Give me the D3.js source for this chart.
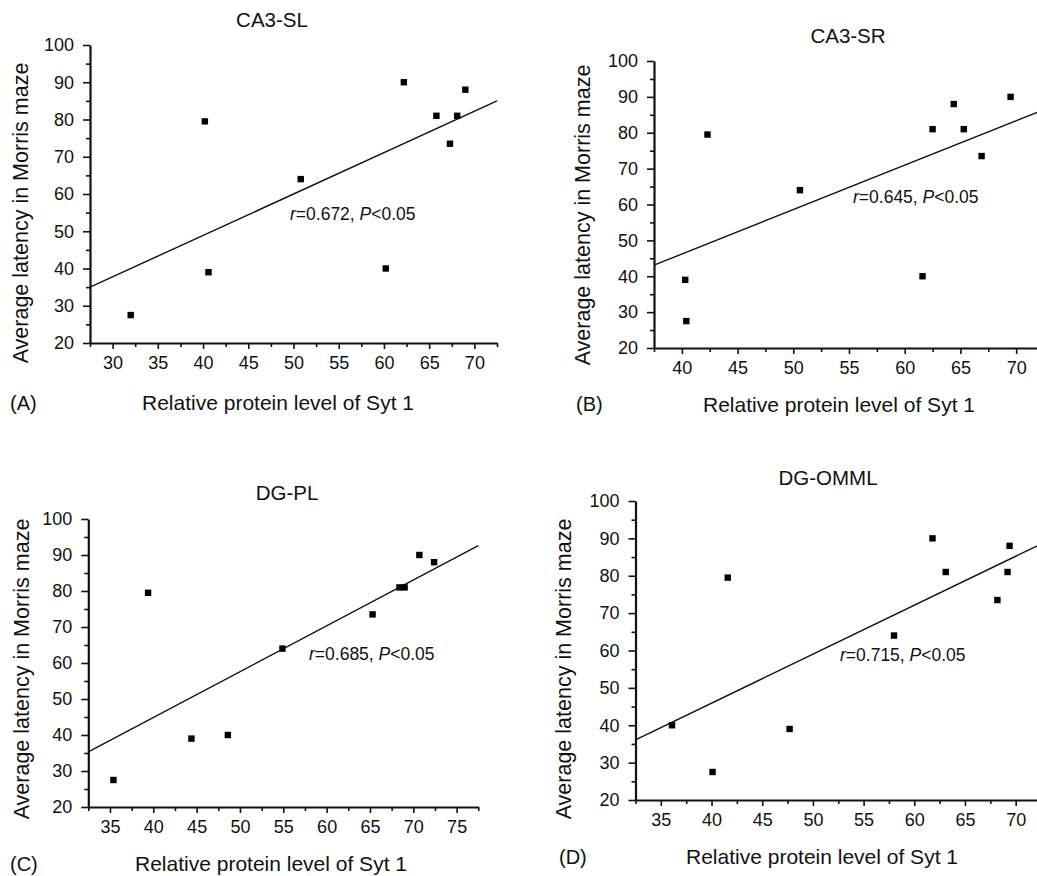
<!DOCTYPE html>
<html lang="en">
<head>
    <meta charset="UTF-8">
    <title>Syt 1 vs latency</title>
    <style>
        body { margin: 0; background: #fff; }
        text { font-family: "Liberation Sans", Arial, Helvetica, sans-serif; fill: #111; }
    </style>
</head>
<body>
<div id="chart"></div>
<script src="https://cdn.jsdelivr.net/npm/d3@7/dist/d3.min.js"></script>
<script>
    // values
    const panelNames = ["CA3-SL", "CA3-SR", "DG-PL", "DG-OMML"];
    const panelLetters = ["(A)", "(B)", "(C)", "(D)"];
    const rValues = ["0.672", "0.645", "0.685", "0.715"];

    const proteinA = [32.0, 40.2, 40.6, 50.8, 60.2, 62.2, 65.8, 67.3, 68.1, 69.0];
    const latencyA = [27.5, 79.5, 39, 64, 40, 90, 81, 73.5, 81, 88];
    const proteinB = [42.3, 40.3, 40.4, 50.6, 61.6, 62.5, 64.4, 65.3, 66.9, 69.5];
    const latencyB = [79.5, 39, 27.5, 64, 40, 81, 88, 81, 73.5, 90];
    const proteinC = [35.4, 39.4, 44.4, 48.6, 54.9, 65.3, 68.4, 69.0, 70.7, 72.4];
    const latencyC = [27.5, 79.5, 39, 40, 64, 73.5, 81, 81, 90, 88];
    const proteinD = [36.1, 40.1, 41.6, 47.7, 58.0, 61.8, 63.1, 68.2, 69.2, 69.4];
    const latencyD = [40, 27.5, 79.5, 39, 64, 90, 81, 73.5, 81, 88];

    // regression lines: latency = intercept + slope * protein
    const fitSlopes = [1.111, 1.238, 1.273, 1.311];
    const fitIntercepts = [4.44, -3.33, -6.07, -6.55];

    const xDomains = [[27.5, 72.5], [37.5, 72.5], [32.5, 77.5], [32.5, 72.5]];
    const yTicks = [20, 30, 40, 50, 60, 70, 80, 90, 100];

    const xTitle = "Relative protein level of Syt 1";
    const yTitle = "Average latency in Morris maze";

    const proteins = [proteinA, proteinB, proteinC, proteinD];
    const latencies = [latencyA, latencyB, latencyC, latencyD];

    // pixel layout of each panel
    const layout = [
        {x0: 90, x1: 497, y0: 343, y1: 45, title: [272, 27], letter: [10, 410], xt: [278, 410], yt: [28, 213], note: [290, 220]},
        {x0: 654, x1: 1044, y0: 348, y1: 61, title: [848, 43], letter: [576, 411], xt: [839, 412], yt: [590, 215], note: [853, 203]},
        {x0: 88.3, x1: 478.3, y0: 807, y1: 519, title: [287, 500], letter: [10, 871], xt: [271, 871], yt: [29, 669], note: [309, 660]},
        {x0: 635.5, x1: 1041, y0: 800, y1: 501, title: [828, 485], letter: [559, 864], xt: [822, 864], yt: [571, 669], note: [840, 661]}
    ];

    const svg = d3.select("#chart")
        .append("svg")
        .attr("width", 1037)
        .attr("height", 876)
        .style("background-color", "#fff");

    panelNames.forEach((name, i) => {
        const L = layout[i];
        const dom = xDomains[i];
        const xScale = d3.scaleLinear().domain(dom).range([L.x0, L.x1]);
        const yScale = d3.scaleLinear().domain([20, 100]).range([L.y0, L.y1]);
        const g = svg.append("g").classed("panel", true);

        const xMajor = d3.range(Math.ceil(dom[0] / 5) * 5, dom[1] + 0.01, 5);
        const xMinor = d3.range(dom[0], dom[1] + 0.01, 2.5).filter(v => v % 5 !== 0);
        const yMinor = d3.range(25, 100, 10);

        // minor ticks
        g.append("g")
            .attr("transform", `translate(0,${L.y0})`)
            .call(d3.axisBottom(xScale).tickValues(xMinor).tickSize(4).tickFormat(""))
            .call(a => a.select(".domain").remove());
        g.append("g")
            .attr("transform", `translate(${L.x0},0)`)
            .call(d3.axisLeft(yScale).tickValues(yMinor).tickSize(4).tickFormat(""))
            .call(a => a.select(".domain").remove());

        // major axes
        g.append("g")
            .classed("xaxis", true)
            .attr("transform", `translate(0,${L.y0})`)
            .call(d3.axisBottom(xScale).tickValues(xMajor).tickSize(6).tickPadding(7).tickSizeOuter(0));
        g.append("g")
            .classed("yaxis", true)
            .attr("transform", `translate(${L.x0},0)`)
            .call(d3.axisLeft(yScale).tickValues(yTicks).tickSize(7).tickPadding(9).tickSizeOuter(0));

        g.selectAll(".tick line").style("stroke", "#111").style("stroke-width", 1.6);
        g.selectAll(".domain").style("stroke", "#111").style("stroke-width", 2.2);
        g.selectAll(".tick text")
            .style("font-family", "'Liberation Sans', Arial, sans-serif")
            .style("font-size", "18px")
            .style("fill", "#111");

        // regression line
        const fit = dom.map(v => ({x: v, y: fitIntercepts[i] + fitSlopes[i] * v}));
        g.append("path")
            .datum(fit)
            .attr("d", d3.line().x(d => xScale(d.x)).y(d => yScale(d.y)))
            .style("fill", "none")
            .style("stroke", "#111")
            .style("stroke-width", 1.4);

        // points
        g.append("g")
            .selectAll("rect")
            .data(proteins[i].map((p, k) => ({x: p, y: latencies[i][k]})))
            .join("rect")
            .attr("x", d => xScale(d.x) - 3.2)
            .attr("y", d => yScale(d.y) - 3.2)
            .attr("width", 6.4)
            .attr("height", 6.4)
            .style("fill", "#000");

        // texts
        g.append("text")
            .attr("x", L.title[0]).attr("y", L.title[1])
            .attr("text-anchor", "middle")
            .style("font-size", "20.5px")
            .text(name);

        g.append("text")
            .attr("x", L.letter[0]).attr("y", L.letter[1])
            .style("font-size", "20px")
            .text(panelLetters[i]);

        g.append("text")
            .attr("x", L.xt[0]).attr("y", L.xt[1])
            .attr("text-anchor", "middle")
            .style("font-size", "21px")
            .text(xTitle);

        g.append("text")
            .attr("transform", `translate(${L.yt[0]},${L.yt[1]}) rotate(-90)`)
            .attr("text-anchor", "middle")
            .style("font-size", "21.5px")
            .text(yTitle);

        const note = g.append("text")
            .attr("x", L.note[0]).attr("y", L.note[1])
            .style("font-size", "17.5px");
        note.append("tspan").style("font-style", "italic").text("r");
        note.append("tspan").text("=" + rValues[i] + ", ");
        note.append("tspan").style("font-style", "italic").text("P");
        note.append("tspan").text("<0.05");
    });
</script>
</body>
</html>
